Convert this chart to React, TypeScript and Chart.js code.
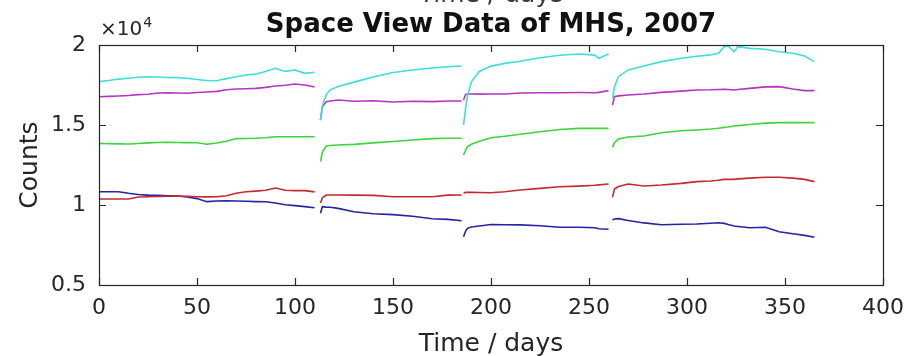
import React, { useEffect, useRef } from 'react';
import { Chart, registerables } from 'chart.js';

Chart.register(...registerables);

// Time in days (null values in the series mark the gaps between segments)
const days = [
  0, 5, 10, 15, 20, 25, 30, 35, 40, 45, 50, 55, 60, 65, 70, 75, 80, 85, 90, 95, 100, 105, 110,
  111.5,
  113, 114, 116, 118, 122, 130, 140, 150, 160, 170, 178, 185,
  185.5,
  186, 187, 188, 190, 194, 200, 207, 215, 225, 235, 245, 253, 255, 260,
  261,
  262, 263, 265, 270, 278, 287, 297, 305, 312, 316, 319, 321, 324, 326, 332, 340, 347, 354, 360, 365,
];

const cyanCounts = [
  17710, 17780, 17870, 17920, 17980, 18020, 18000, 17970, 17960, 17920, 17840, 17780, 17770, 17900, 18020, 18120, 18190, 18350, 18540, 18350, 18440, 18230, 18300,
  null,
  15300, 16200, 16900, 17200, 17400, 17680, 18000, 18280, 18440, 18560, 18640, 18690,
  null,
  15000, 16000, 16800, 17700, 18350, 18680, 18850, 18980, 19200, 19360, 19440, 19370, 19170, 19440,
  null,
  16670, 17400, 18020, 18440, 18690, 18960, 19170, 19300, 19380, 19480, 19900, 19940, 19580, 19900, 19790, 19730, 19580, 19480, 19310, 18960,
];

const magentaCounts = [
  16770, 16790, 16810, 16840, 16900, 16920, 17000, 17020, 17000, 16980, 17030, 17060, 17100, 17200, 17250, 17270, 17290, 17350, 17440, 17480, 17560, 17500, 17370,
  null,
  15300, 16150, 16460, 16500, 16560, 16480, 16520, 16440, 16480, 16460, 16500, 16500,
  null,
  16560, 16900, 16940, 16940, 16930, 16940, 16940, 17000, 17020, 17020, 17030, 17020, 17040, 17150,
  null,
  16250, 16770, 16820, 16875, 16940, 17040, 17120, 17190, 17200, 17220, 17230, 17220, 17190, 17220, 17290, 17380, 17400, 17250, 17150, 17150,
];

const greenCounts = [
  13850, 13830, 13820, 13810, 13840, 13880, 13910, 13920, 13910, 13900, 13890, 13800, 13880, 13980, 14150, 14160, 14170, 14200, 14270, 14270, 14270, 14270, 14270,
  null,
  12710, 13330, 13690, 13720, 13750, 13790, 13880, 13970, 14060, 14150, 14170, 14170,
  null,
  13125, 13400, 13650, 13800, 13980, 14200, 14300, 14420, 14580, 14720, 14790, 14790, 14790, 14790,
  null,
  13600, 13900, 14120, 14250, 14310, 14520, 14640, 14690, 14750, 14800, 14850, 14880, 14940, 14960, 15030, 15120, 15150, 15150, 15150, 15150,
];

const redCounts = [
  10375, 10375, 10375, 10375, 10500, 10520, 10530, 10550, 10560, 10540, 10520, 10510, 10520, 10580, 10730, 10830, 10870, 10920, 11060, 10920, 10900, 10900, 10820,
  null,
  10125, 10450, 10625, 10625, 10625, 10620, 10600, 10520, 10520, 10520, 10620, 10625,
  null,
  10730, 10790, 10790, 10790, 10780, 10770, 10830, 10940, 11040, 11140, 11180, 11230, 11260, 11310,
  null,
  10480, 11000, 11150, 11310, 11190, 11250, 11350, 11460, 11500, 11550, 11600, 11600, 11600, 11630, 11680, 11730, 11730, 11680, 11600, 11460,
];

const blueCounts = [
  10830, 10830, 10830, 10730, 10660, 10620, 10600, 10580, 10560, 10500, 10400, 10210, 10250, 10270, 10250, 10230, 10210, 10200, 10120, 10020, 9960, 9900, 9830,
  null,
  9480, 9900, 9870, 9860, 9790, 9580, 9450, 9400, 9300, 9140, 9100, 9020,
  null,
  8020, 8350, 8540, 8620, 8690, 8780, 8770, 8760, 8700, 8610, 8610, 8580, 8520, 8480,
  null,
  9060, 9120, 9150, 9030, 8880, 8770, 8800, 8810, 8860, 8890, 8850, 8780, 8690, 8660, 8580, 8610, 8330, 8200, 8100, 7980,
];

const xTicks = [0, 50, 100, 150, 200, 250, 300, 350, 400];
const xTickLabels = ['0', '50', '100', '150', '200', '250', '300', '350', '400'];
const yTicks = [5000, 10000, 15000, 20000];
const yTickLabels = ['0.5', '1', '1.5', '2'];

const titleText = 'Space View Data of MHS, 2007';
const xLabelText = 'Time / days';
const yLabelText = 'Counts';

const seriesList = [
  { name: 'cyan', values: cyanCounts, color: '#3cdede' },
  { name: 'magenta', values: magentaCounts, color: '#b833c4' },
  { name: 'green', values: greenCounts, color: '#3ad63a' },
  { name: 'red', values: redCounts, color: '#c42a2e' },
  { name: 'blue', values: blueCounts, color: '#2424a8' },
];

const AXIS_COLOR = '#262626';
const FONT = '"DejaVu Sans", sans-serif';

const decorPlugin = {
  id: 'matlabDecor',
  afterDraw(chart: any) {
    const { ctx, chartArea } = chart;
    const { left, right, top, bottom } = chartArea;
    const xs = chart.scales.x;
    const ys = chart.scales.y;
    ctx.save();
    ctx.strokeStyle = AXIS_COLOR;
    ctx.lineWidth = 1.2;
    ctx.strokeRect(Math.round(left) + 0.5, Math.round(top) + 0.5, Math.round(right - left), Math.round(bottom - top));
    const tl = 7;
    ctx.beginPath();
    xTicks.forEach((v) => {
      const px = Math.round(xs.getPixelForValue(v)) + 0.5;
      ctx.moveTo(px, bottom);
      ctx.lineTo(px, bottom - tl);
      ctx.moveTo(px, top);
      ctx.lineTo(px, top + tl);
    });
    yTicks.forEach((v) => {
      const py = Math.round(ys.getPixelForValue(v)) + 0.5;
      ctx.moveTo(left, py);
      ctx.lineTo(left + tl, py);
      ctx.moveTo(right, py);
      ctx.lineTo(right - tl, py);
    });
    ctx.stroke();

    const cx = (left + right) / 2;
    // clipped duplicate x label at very top
    ctx.fillStyle = '#3a3a3a';
    ctx.textAlign = 'center';
    ctx.textBaseline = 'alphabetic';
    ctx.font = `25px ${FONT}`;
    ctx.fillText(xLabelText, cx, 2);

    // title
    ctx.fillStyle = '#111111';
    ctx.font = `bold 26px ${FONT}`;
    ctx.fillText(titleText, cx, 32);

    // x label
    ctx.fillStyle = AXIS_COLOR;
    ctx.font = `25px ${FONT}`;
    ctx.fillText(xLabelText, cx, 351);

    // y label
    ctx.save();
    ctx.translate(37, (top + bottom) / 2);
    ctx.rotate(-Math.PI / 2);
    ctx.fillText(yLabelText, 0, 0);
    ctx.restore();

    // exponent
    ctx.textAlign = 'left';
    ctx.font = `20px ${FONT}`;
    ctx.fillText('\u00d710', left + 1, 35);
    const w = ctx.measureText('\u00d710').width;
    ctx.font = `14px ${FONT}`;
    ctx.fillText('4', left + 1 + w + 1, 27);
    ctx.restore();
  },
};

export default function App() {
  const canvasRef = useRef<HTMLCanvasElement | null>(null);

  useEffect(() => {
    const canvas = canvasRef.current;
    if (!canvas) return;
    const datasets = seriesList.map((s) => ({
      label: s.name,
      data: days.map((d, i) => ({ x: d, y: s.values[i] })),
      borderColor: s.color,
      backgroundColor: s.color,
      borderWidth: 1.6,
      pointRadius: 0,
      tension: 0,
      spanGaps: false,
      fill: false,
    }));
    const chart = new Chart(canvas, {
      type: 'line',
      data: { datasets },
      options: {
        responsive: false,
        animation: false,
        devicePixelRatio: 1,
        layout: { padding: { top: 45, right: 41, left: 0, bottom: 0 } },
        plugins: {
          legend: { display: false },
          title: { display: false },
          tooltip: { enabled: false },
        },
        scales: {
          x: {
            type: 'linear',
            min: 0,
            max: 400,
            grid: { display: false, drawTicks: false },
            border: { display: false },
            afterBuildTicks: (scale: any) => {
              scale.ticks = xTicks.map((v) => ({ value: v }));
            },
            afterFit: (scale: any) => {
              scale.height = 71;
            },
            ticks: {
              autoSkip: false,
              maxRotation: 0,
              padding: 10,
              color: AXIS_COLOR,
              font: { family: FONT, size: 22 },
              callback: (v: any) => {
                const i = xTicks.indexOf(Number(v));
                return i >= 0 ? xTickLabels[i] : '';
              },
            },
          },
          y: {
            type: 'linear',
            min: 5000,
            max: 20000,
            grid: { display: false, drawTicks: false },
            border: { display: false },
            afterBuildTicks: (scale: any) => {
              scale.ticks = yTicks.map((v) => ({ value: v }));
            },
            afterFit: (scale: any) => {
              scale.width = 99;
            },
            ticks: {
              autoSkip: false,
              padding: 13,
              color: AXIS_COLOR,
              font: { family: FONT, size: 22 },
              callback: (v: any) => {
                const i = yTicks.indexOf(Number(v));
                return i >= 0 ? yTickLabels[i] : '';
              },
            },
          },
        },
      },
      plugins: [decorPlugin],
    });
    return () => chart.destroy();
  }, []);

  return (
    <div style={{ position: 'fixed', left: 0, top: 0, width: 924, height: 356, background: '#ffffff' }}>
      <canvas ref={canvasRef} width={924} height={356} style={{ display: 'block' }} />
    </div>
  );
}
